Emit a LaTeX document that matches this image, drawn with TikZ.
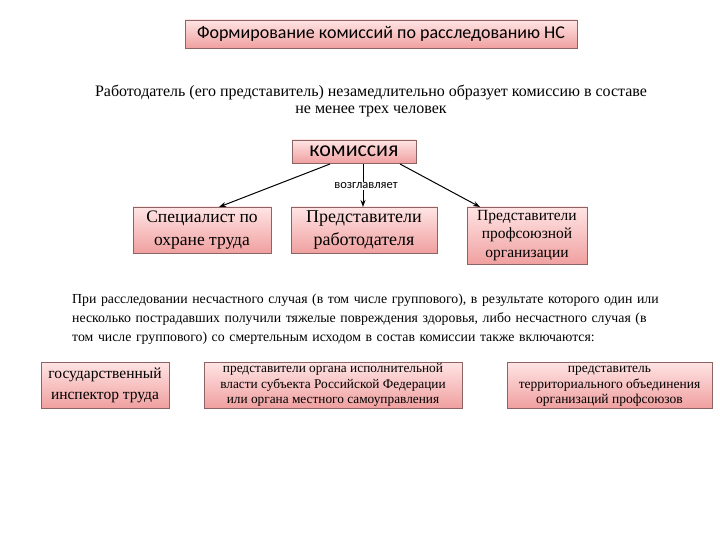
\documentclass[tikz,border=0pt]{standalone}
\usepackage{fontspec}
\setmainfont{Liberation Serif}
\newfontfamily\calfont{Carlito}
\usetikzlibrary{arrows.meta}
\definecolor{boxtop}{RGB}{255,228,228}
\definecolor{boxbot}{RGB}{240,160,160}
\definecolor{boxline}{RGB}{140,100,100}
\tikzset{
  pbox/.style={draw=boxline, line width=0.6pt, top color=boxtop, bottom color=boxbot, inner sep=1pt, align=center},
  arr/.style={-{Stealth[length=7pt,width=5pt]}, line width=1pt},
}
\begin{document}
\begin{tikzpicture}[x=1pt,y=-1pt]
\useasboundingbox[fill=white] (0,0) rectangle (720,540);
\node[pbox, minimum width=392pt, minimum height=28pt, font=\calfont\fontsize{18}{20}\selectfont] (title) at (381,34) {Формирование комиссий по расследованию НС};
\node[align=center, font=\fontsize{16}{17}\selectfont] (intro) at (371,101) {Работодатель (его представитель) незамедлительно образует комиссию в составе\\не менее трех человек};
\node[pbox, minimum width=124pt, minimum height=23pt, font=\calfont\fontsize{22}{22}\selectfont] (kom) at (354,151.5) {комиссия};
\node[pbox, minimum width=138pt, minimum height=46pt, font=\fontsize{17.5}{23}\selectfont] (spec) at (202,230) {Специалист по\\охране труда};
\node[pbox, minimum width=146pt, minimum height=46pt, font=\fontsize{18}{23}\selectfont] (rab) at (364,230) {Представители\\работодателя};
\node[pbox, minimum width=120pt, minimum height=57pt, font=\fontsize{15.5}{18.5}\selectfont] (prof) at (527,235.5) {Представители\\профсоюзной\\организации};
\coordinate (k1) at (330,164);
\coordinate (k2) at (363,164);
\coordinate (k3) at (400,164);
\draw[arr] (k1) -- (219,207);
\draw[arr] (k2) -- (363,207);
\draw[arr] (k3) -- (480,207);
\node[font=\calfont\fontsize{12.5}{14}\selectfont, fill=white, inner sep=1pt] (vozg) at (366,186) {возглавляет};
\node[anchor=north west, text width=640pt, align=left, font=\fontsize{13.8}{19}\selectfont, inner sep=0pt] (para) at (72,294) {При расследовании несчастного случая (в том числе группового), в результате которого один или\\несколько пострадавших получили тяжелые повреждения здоровья, либо несчастного случая (в\\том числе группового) со смертельным исходом в состав комиссии также включаются:};
\node[pbox, minimum width=128pt, minimum height=46pt, font=\fontsize{15.5}{21}\selectfont] (gos) at (105,385) {государственный\\инспектор труда};
\node[pbox, minimum width=258pt, minimum height=46pt, font=\fontsize{13.3}{15.5}\selectfont] (vlast) at (333,385) {представители органа исполнительной\\власти субъекта Российской Федерации\\или органа местного самоуправления};
\node[pbox, minimum width=205pt, minimum height=46pt, font=\fontsize{13.5}{15.5}\selectfont] (terr) at (609.5,385) {\vphantom{й}представитель\\территориального объединения\\организаций профсоюзов};
\end{tikzpicture}
\end{document}
